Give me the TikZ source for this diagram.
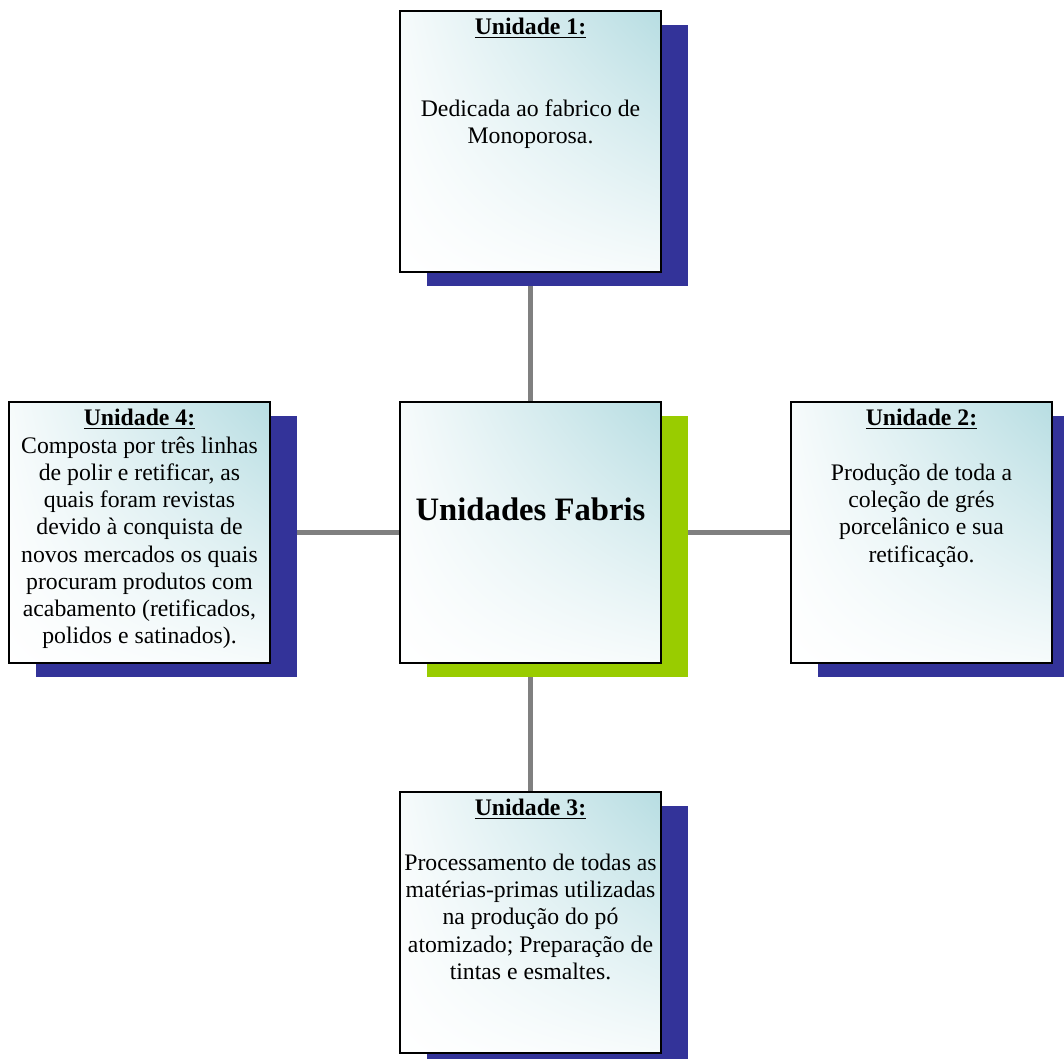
\documentclass[tikz,border=0pt]{standalone}
\usepackage{fontspec}
\setmainfont{Liberation Serif}
\usetikzlibrary{shadings,shadows,backgrounds,positioning}
\definecolor{Ice}{RGB}{183,221,226}
\definecolor{Navy}{RGB}{51,51,153}
\definecolor{Lime}{RGB}{153,204,0}
\colorlet{Link}{black!50}
\newcommand\unittitle[1]{\underline{\textbf{Unidade #1:}}}

\begin{document}
\begin{tikzpicture}[
  x=0.2mm,
  y=-0.2mm,
  box/.style={draw=black, line width=1pt, shade,
    upper right=Ice, upper left=Ice!12, lower left=white, lower right=Ice!12,
    minimum width=5.22cm, minimum height=5.22cm, inner sep=0pt,
    drop shadow={shadow xshift=0.54cm, shadow yshift=-0.28cm,
      fill=#1, opacity=1}},
  box/.default=Navy,
  body/.style={font=\fontsize{13.5}{15.5}\selectfont, align=center,
    inner sep=0pt, anchor=north},
  link/.style={draw=Link, line width=2.8pt}
  ]
\useasboundingbox (0,0) rectangle (1064,1058);
\node[box=Lime] (centre) at (530.5,532.5) {};
\node[box] (unit1) at (530.5,141.5) {};
\node[box] (unit2) at (921.5,532.5) {};
\node[box] (unit3) at (530.5,922.5) {};
\node[box] (unit4) at (139.5,532.5) {};
\node[font=\fontsize{18.6}{21}\selectfont\bfseries, anchor=base]
  (centre text) at ([yshift=0.25cm]centre.center) {Unidades Fabris};
\node[body, below=0.16cm of unit1.north] (unit1 text)
  {\unittitle{1}\\[31pt]
   Dedicada ao fabrico de\\
   Monoporosa.};
\node[body, below=0.16cm of unit2.north] (unit2 text)
  {\unittitle{2}\\[15.5pt]
   Produção de toda a\\
   coleção de grés\\
   porcelânico e sua\\
   retificação.};
\node[body, below=0.16cm of unit3.north] (unit3 text)
  {\unittitle{3}\\[15.5pt]
   Processamento de todas as\\
   matérias-primas utilizadas\\
   na produção do pó\\
   atomizado; Preparação de\\
   tintas e esmaltes.};
\node[body, below=0.16cm of unit4.north] (unit4 text)
  {\unittitle{4}\\
   Composta por três linhas\\
   de polir e retificar, as\\
   quais foram revistas\\
   devido à conquista de\\
   novos mercados os quais\\
   procuram produtos com\\
   acabamento (retificados,\\
   polidos e satinados).};
\begin{scope}[on background layer]
  \draw[link] (centre) -- (unit1);
  \draw[link] (centre) -- (unit2);
  \draw[link] (centre) -- (unit3);
  \draw[link] (centre) -- (unit4);
\end{scope}
\end{tikzpicture}
\end{document}
